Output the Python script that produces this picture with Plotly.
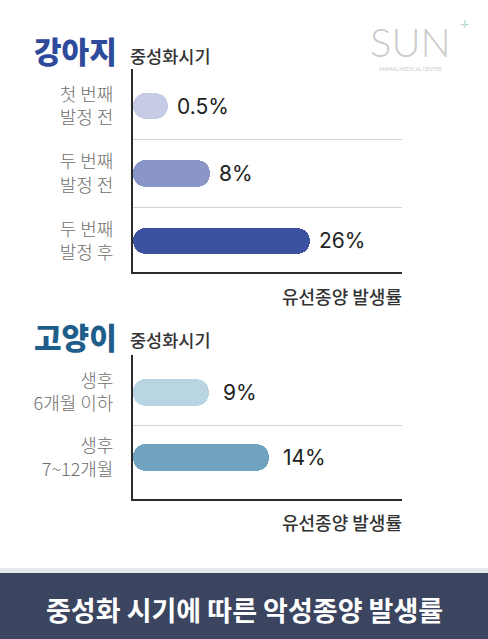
import plotly.graph_objects as go

# ---------------- data ----------------
dog_categories = ["첫 번째<br>발정 전", "두 번째<br>발정 전", "두 번째<br>발정 후"]
dog_values = [0.5, 8, 26]
dog_labels = ["0.5%", "8%", "26%"]
dog_colors = ["#c6cbe6", "#8996c7", "#3b52a1"]

cat_categories = ["생후<br>6개월 이하", "생후<br>7~12개월"]
cat_values = [9, 14]
cat_labels = ["9%", "14%"]
cat_colors = ["#b9d5e3", "#6fa3bf"]

dog_title = "강아지"
cat_title = "고양이"
y_title = "중성화시기"
x_title = "유선종양 발생률"
banner_text = "중성화 시기에 따른 악성종양 발생률"

# visual axis settings (bars start at the axis line)
dog_base, dog_xmax = -5.76, 42.6
cat_base, cat_xmax = 2.67, 25.1

W, H = 488, 639
KR = "Noto Sans CJK KR"


def px(x):
    return x / W


def py(y):
    return 1 - y / H


fig = go.Figure()

fig.add_trace(go.Bar(
    y=list(range(len(dog_values))), x=[v - dog_base for v in dog_values], base=dog_base,
    orientation="h", marker=dict(color=dog_colors, cornerradius=13, line=dict(width=0)),
    width=0.39, xaxis="x", yaxis="y", showlegend=False, hoverinfo="skip"))

fig.add_trace(go.Bar(
    y=list(range(len(cat_values))), x=[v - cat_base for v in cat_values], base=cat_base,
    orientation="h", marker=dict(color=cat_colors, cornerradius=13, line=dict(width=0)),
    width=0.41, xaxis="x2", yaxis="y2", showlegend=False, hoverinfo="skip"))

val_font = dict(family="Inter", size=21, color="#222222", weight=400)
annotations = []
for i, (v, t) in enumerate(zip(dog_values, dog_labels)):
    annotations.append(dict(x=v, y=i, xref="x", yref="y", text=t, showarrow=False,
                            xanchor="left", yanchor="middle", xshift=7, font=val_font))
for i, (v, t) in enumerate(zip(cat_values, cat_labels)):
    annotations.append(dict(x=v, y=i, xref="x2", yref="y2", text=t, showarrow=False,
                            xanchor="left", yanchor="middle", xshift=12, font=val_font))

# headers
for title, color, ty, sy in [(dog_title, "#2e4b9b", 50, 55), (cat_title, "#1f5d8a", 336, 339)]:
    annotations.append(dict(x=px(32), y=py(ty), xref="paper", yref="paper", text=title,
                            showarrow=False, xanchor="left", yanchor="middle",
                            font=dict(family=KR, size=30, color=color, weight=900)))
    annotations.append(dict(x=px(128), y=py(sy), xref="paper", yref="paper", text=y_title,
                            showarrow=False, xanchor="left", yanchor="middle",
                            font=dict(family=KR, size=17.5, color="#333333", weight=500)))

for yy in (296, 522):
    annotations.append(dict(x=px(404), y=py(yy), xref="paper", yref="paper", text=x_title,
                            showarrow=False, xanchor="right", yanchor="middle",
                            font=dict(family=KR, size=18, color="#333333", weight=500)))

# banner text
annotations.append(dict(x=0.5, y=py(609), xref="paper", yref="paper", text=banner_text,
                        showarrow=False, xanchor="center", yanchor="middle",
                        font=dict(family=KR, size=27, color="#ffffff", weight=700)))

# logo
annotations.append(dict(x=px(410), y=py(42), xref="paper", yref="paper", text="SUN",
                        showarrow=False, xanchor="center", yanchor="middle",
                        font=dict(family="Lato", size=40, color="#cccccc", weight=300)))
annotations.append(dict(x=px(410), y=py(69), xref="paper", yref="paper",
                        text="ANIMAL MEDICAL CENTER", showarrow=False,
                        xanchor="center", yanchor="middle",
                        font=dict(family="Lato", size=5, color="#cccccc")))
annotations.append(dict(x=px(464), y=py(23), xref="paper", yref="paper", text="+",
                        showarrow=False, xanchor="center", yanchor="middle",
                        font=dict(family="Lato", size=16, color="#b7dbd6")))

shapes = [
    dict(type="rect", xref="paper", yref="paper", x0=0, x1=1, y0=py(573), y1=py(568),
         fillcolor="#e4eaec", line=dict(width=0), layer="below"),
    dict(type="rect", xref="paper", yref="paper", x0=0, x1=1, y0=0, y1=py(573),
         fillcolor="#3c455f", line=dict(width=0), layer="below"),
]

xdom = [px(133), px(402)]
axis_common = dict(showgrid=False, zeroline=False, showticklabels=False, ticks="",
                   showline=True, linecolor="#2b2b2b", linewidth=2, fixedrange=True)
yaxis_common = dict(showgrid=False, zeroline=False, showline=True, linecolor="#2b2b2b",
                    linewidth=2, ticks="outside", ticklen=14, tickcolor="rgba(0,0,0,0)",
                    tickfont=dict(family=KR, size=18, color="#6e6e6e", weight=300),
                    fixedrange=True)

fig.update_layout(
    width=W, height=H, margin=dict(l=0, r=0, t=0, b=0),
    paper_bgcolor="white", plot_bgcolor="white",
    xaxis=dict(domain=xdom, range=[dog_base, dog_xmax], anchor="y", **axis_common),
    yaxis=dict(domain=[py(272), py(69)], range=[2.46, -0.55], anchor="x",
               tickmode="array", tickvals=list(range(len(dog_categories))),
               ticktext=dog_categories,
               minor=dict(tickmode="array", tickvals=[0.5, 1.5], showgrid=True,
                          gridcolor="#d4d4d4", gridwidth=1, ticks=""),
               **yaxis_common),
    xaxis2=dict(domain=xdom, range=[cat_base, cat_xmax], anchor="y2", **axis_common),
    yaxis2=dict(domain=[py(499), py(355)], range=[1.63, -0.57], anchor="x2",
                tickmode="array", tickvals=list(range(len(cat_categories))),
                ticktext=cat_categories,
                minor=dict(tickmode="array", tickvals=[0.5], showgrid=True,
                           gridcolor="#d4d4d4", gridwidth=1, ticks=""),
                **yaxis_common),
    annotations=annotations, shapes=shapes, bargap=0,
)

fig.write_html("out.html")
